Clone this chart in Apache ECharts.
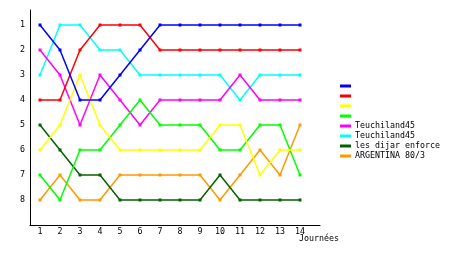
<!DOCTYPE html>
<html><head><meta charset="utf-8">
<script src="https://cdn.jsdelivr.net/npm/echarts@6/dist/echarts.min.js"></script>
<style>html,body{margin:0;padding:0;background:#fff}#c{width:460px;height:255px}</style>
</head><body><div id="c"></div>
<script>
var days = [1,2,3,4,5,6,7,8,9,10,11,12,13,14];
var ranks = [1,2,3,4,5,6,7,8];
var names = ['', '', '', '', 'Teuchiland45', 'Teuchiland45', 'les dijar enforce', 'ARGENTINA 80/3'];
var colors = ['#0000ff','#ff0000','#ffff00','#00ff00','#ff00ff','#00ffff','#006400','#ff9900'];
var sBlue    = [1,2,4,4,3,2,1,1,1,1,1,1,1,1];
var sRed     = [4,4,2,1,1,1,2,2,2,2,2,2,2,2];
var sYellow  = [6,5,3,5,6,6,6,6,6,5,5,7,6,6];
var sLime    = [7,8,6,6,5,4,5,5,5,6,6,5,5,7];
var sMagenta = [2,3,5,3,4,5,4,4,4,4,3,4,4,4];
var sCyan    = [3,1,1,2,2,3,3,3,3,3,4,3,3,3];
var sDark    = [5,6,7,7,8,8,8,8,8,7,8,8,8,8];
var sOrange  = [8,7,8,8,7,7,7,7,7,8,7,6,7,5];
var allSeries = [sBlue,sRed,sYellow,sLime,sMagenta,sCyan,sDark,sOrange];
var xLabel = 'Journées';

var font = 'DejaVu Sans Mono';
var chart = echarts.init(document.getElementById('c'), null, {renderer:'canvas'});
var series = allSeries.map(function(arr, i){
  return {
    type:'line', name:'s'+i,
    data: arr.map(function(v, j){ return [days[j], v]; }),
    symbol:'rect', symbolSize:3,
    itemStyle:{color:colors[i]},
    lineStyle:{color:colors[i], width:1.5},
    z: 10 - i
  };
});
chart.setOption({
  animation:false,
  backgroundColor:'#fff',
  grid:{left:30, top:10, right:140, bottom:30, containLabel:false},
  legend:{
    orient:'vertical', left:340, top:81, padding:0,
    itemWidth:11, itemHeight:3, itemGap:0, icon:'rect',
    data: series.map(function(s){return s.name;}),
    formatter:function(n){ return names[+n.slice(1)] || '\u00a0'; },
    textStyle:{fontFamily:font, fontSize:8.3, color:'#000', lineHeight:10, height:10, padding:[0,0,0,-1]},
    selectedMode:false
  },
  xAxis:{
    type:'value', min:0.5, max:15,
    axisLine:{show:true, onZero:false, lineStyle:{color:'#000', width:1}},
    axisTick:{show:false},
    splitLine:{show:false},
    axisLabel:{customValues:days, color:'#000', fontFamily:font, fontSize:8.3, margin:3}
  },
  yAxis:{
    type:'value', min:0.4, max:9, inverse:true,
    axisLine:{show:true, onZero:false, lineStyle:{color:'#000', width:1}},
    axisTick:{show:false},
    splitLine:{show:false},
    axisLabel:{customValues:ranks, color:'#000', fontFamily:font, fontSize:8.3, margin:5}
  },
  graphic:[{type:'text', left:299, top:235, style:{text:xLabel, font:'8.3px "DejaVu Sans Mono"', fill:'#000'}}],
  series: series
});
</script></body></html>
